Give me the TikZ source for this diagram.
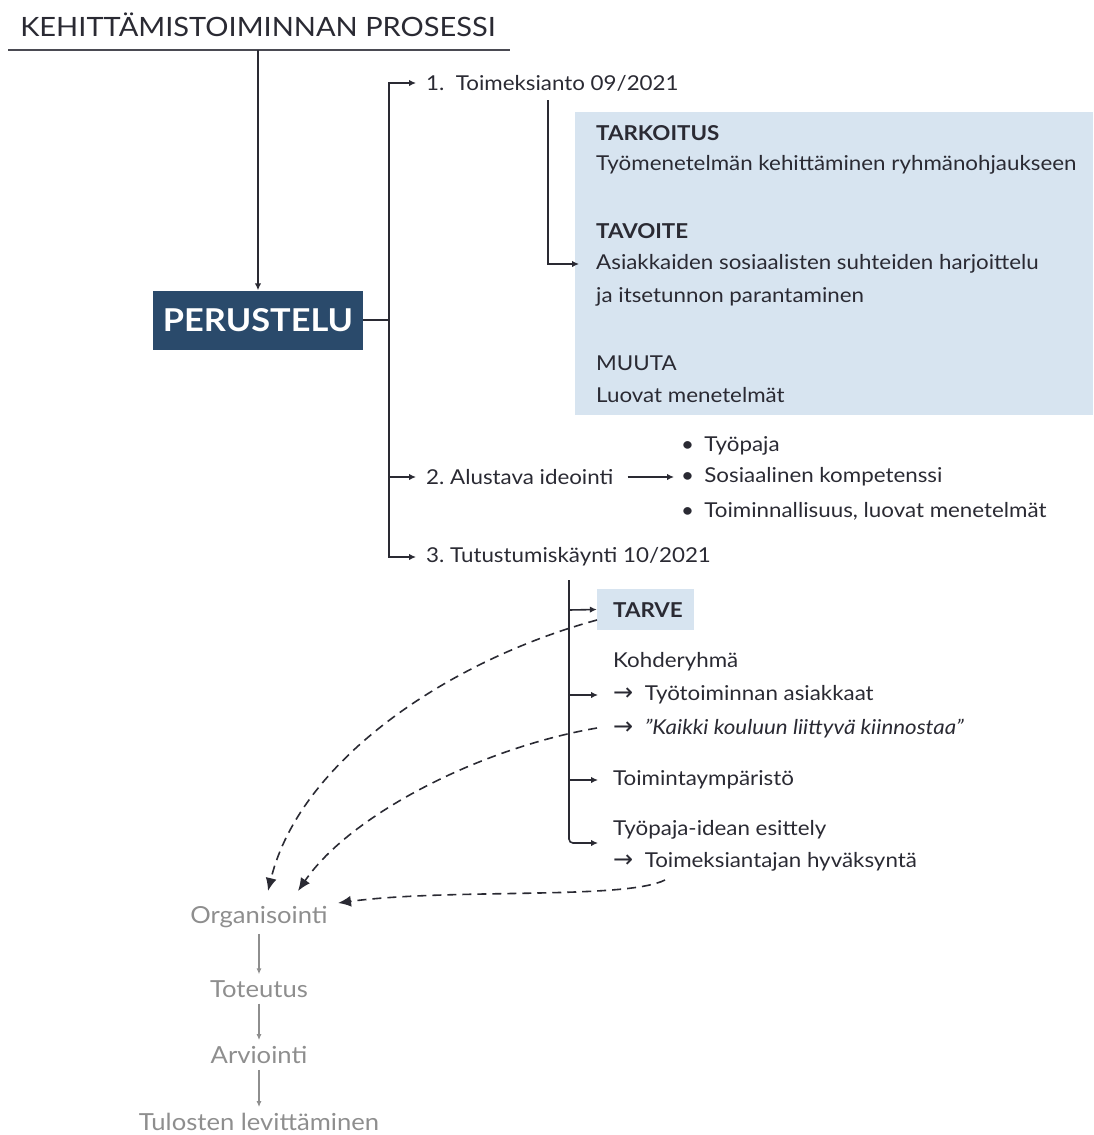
\documentclass[tikz,border=0pt]{standalone}
\usepackage{fontspec}
\setmainfont{Lato}[FakeStretch=1.09]
\newfontfamily\arrowfont{DejaVu Sans}
\newcommand{\pointer}{{\arrowfont\fontsize{24}{24}\selectfont →}\ \ }
\usetikzlibrary{arrows.meta,calc}
\definecolor{ink}{HTML}{2A2A33}
\definecolor{navy}{HTML}{2A4A6B}
\definecolor{pale}{HTML}{D7E4F0}
\definecolor{soft}{HTML}{8E8E8E}
\begin{document}
\begin{tikzpicture}[x=1pt,y=-1pt,
  txt/.style={anchor=west,inner sep=0pt,text=ink,font=\fontsize{20.5}{24}\selectfont},
  hd/.style={txt,font=\fontsize{20.5}{24}\selectfont\bfseries},
  gry/.style={inner sep=0pt,text=soft,font=\fontsize{23.5}{26}\selectfont},
  wire/.style={line width=1.6pt,ink},
  arr/.style={wire,-{Latex[length=7pt,width=6.5pt]}},
  garr/.style={line width=1.1pt,soft,-{Latex[length=6pt,width=5pt]}},
  fbdash/.style={line width=1.6pt,ink,dash pattern=on 9pt off 6pt,-{Latex[length=13pt,width=11pt]}}]
\useasboundingbox (0,0) rectangle (1093,1135);

% title
\node[inner sep=0pt,text=ink,font=\fontsize{26.6}{30}\selectfont] (title) at (258,25) {KEHITTÄMISTOIMINNAN PROSESSI};
\draw[line width=1.6pt,ink!85] (8,50) -- (510,50);
\coordinate (tstem) at (258,50);

% main box
\node[fill=navy,text=white,font=\fontsize{31.5}{36}\selectfont\bfseries,minimum width=210pt,minimum height=59pt,inner sep=0pt] (perus) at (258,320) {PERUSTELU};
\draw[arr] (tstem) -- (perus.north);

% steps
\node[txt] (s1) at (426,83) {1.\ \ Toimeksianto 09/2021};
\node[txt] (s2) at (426,477) {2.\ Alustava ideointi};
\node[txt] (s3) at (426,557) {3.\ Tutustumiskäynti 10/2021};
\coordinate (spine) at (389,320);
\draw[wire] (perus.east) -- (spine);
\draw[arr] (spine) |- ($(s1.west)+(-10,0)$);
\draw[arr] (spine) |- ($(s2.west)+(-10,0)$);
\draw[arr] (spine) |- ($(s3.west)+(-10,0)$);

% description panel
\fill[pale] (575,112) rectangle (1093,415);
\node[hd] (tark) at (596,133) {TARKOITUS};
\node[txt] (tark2) at (596,165) {Työmenetelmän kehittäminen ryhmänohjaukseen};
\node[hd] (tavo) at (596,231) {TAVOITE};
\node[txt] (tavo2) at (596,264) {Asiakkaiden sosiaalisten suhteiden harjoittelu};
\node[txt] (tavo3) at (596,297) {ja itsetunnon parantaminen};
\node[txt] (muut) at (596,363) {MUUTA};
\node[txt] (muut2) at (596,395) {Luovat menetelmät};
\coordinate (s1drop) at (548,100);
\draw[arr] (s1drop) |- ($(tavo2.west)+(-17,0)$);

% brainstorm bullets
\node[txt] (b1) at (681,446) {\textbullet\enspace Työpaja};
\node[txt] (b2) at (681,477) {\textbullet\enspace Sosiaalinen kompetenssi};
\node[txt] (b3) at (681,511) {\textbullet\enspace Toiminnallisuus, luovat menetelmät};
\draw[arr] ($(s2.east)+(14,0)$) -- ($(b2.west)+(-7,0)$);

% visit details
\node[fill=pale,minimum width=97pt,minimum height=41pt,inner sep=0pt] (tarvebox) at (645.5,609.5) {};
\node[hd] (tarve) at (613,610) {TARVE};
\node[txt] (kohde) at (613,662) {Kohderyhmä};
\node[txt] (k1) at (613,695) {\pointer Työtoiminnan asiakkaat};
\node[txt] (k2) at (613,729) {\pointer \textit{"Kaikki kouluun liittyvä kiinnostaa"}};
\node[txt] (ymp) at (613,780) {Toimintaympäristö};
\node[txt] (esit) at (613,830) {Työpaja-idean esittely};
\node[txt] (hyv) at (613,862) {\pointer Toimeksiantajan hyväksyntä};
\coordinate (vtop) at (569,580);
\draw[wire] (vtop) -- (569,800);
\draw[arr,rounded corners=4pt] (569,780) -- (569,843) -- (598,843);
\draw[arr] (569,610) -- (tarvebox.west);
\draw[arr] (569,695) -- (598,695);
\draw[arr] (569,780) -- (598,780);

% process chain
\node[gry] (org) at (259,917) {Organisointi};
\node[gry] (tot) at (259,989) {Toteutus};
\node[gry] (arv) at (259,1055) {Arviointi};
\node[gry] (lev) at (259,1122) {Tulosten levittäminen};
\draw[garr] ($(org.south)+(0,6)$) -- ($(tot.north)+(0,-6)$);
\draw[garr] ($(tot.south)+(0,6)$) -- ($(arv.north)+(0,-6)$);
\draw[garr] ($(arv.south)+(0,6)$) -- ($(lev.north)+(0,-6)$);

% feedback links
\coordinate (fa) at (597,620);
\coordinate (fb) at (597,728);
\coordinate (fc) at (665,880);
\coordinate (ea) at (268,891);
\coordinate (eb) at (298,891);
\coordinate (ec) at (338,903);
\draw[fbdash] (fa) .. controls (450,660) and (300,760) .. (ea);
\draw[fbdash] (fb) .. controls (480,748) and (350,815) .. (eb);
\draw[fbdash] (fc) .. controls (625,900) and (450,888) .. (ec);
\end{tikzpicture}
\end{document}
